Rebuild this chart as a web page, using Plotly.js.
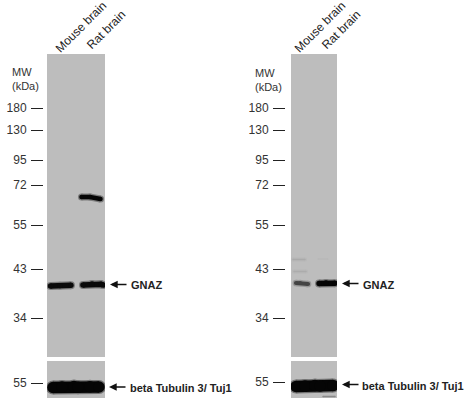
<!DOCTYPE html>
<html><head><meta charset="utf-8">
<script src="https://cdn.plot.ly/plotly-3.0.1.min.js"></script>
<style>html,body{margin:0;padding:0;background:#fff}</style></head>
<body><div id="chart" style="width:475px;height:406px"></div>
<script>
const W = 475, H = 406;
const laneLabels = ["Mouse brain", "Rat brain"];
const mwLabels = ["180", "130", "95", "72", "55", "43", "34"];
const mwMigration = [108, 130, 160, 185, 225, 269, 318];
const loadingLabel = ["55"];
const targetName = "GNAZ";
const loadingName = "beta Tubulin 3/ Tuj1";

// Bands: lane position and migration distance, with intensity as grey level
const leftMouseGnazX = [50.5, 60, 71];
const leftMouseGnazY = [286, 285.6, 285.3];
const leftRatGnazX = [83, 92, 101, 103];
const leftRatGnazY = [285, 284, 284.2, 285];
const leftRat66X = [81.5, 90, 100.5];
const leftRat66Y = [197, 197, 199];
const leftLoadX = [53, 62, 74, 78, 90, 99];
const leftLoadY = [387.5, 387, 386.5, 387.2, 386.8, 387];
const rightMouseGnazX = [296, 300, 308];
const rightMouseGnazY = [283, 283, 284];
const rightRatGnazX = [319, 326, 335];
const rightRatGnazY = [283.5, 283, 283.2];
const rightFaint1X = [293, 305];
const rightFaint1Y = [259.5, 259.5];
const rightFaint2X = [294, 306];
const rightFaint2Y = [271.5, 271.5];
const rightFaint3X = [318, 328];
const rightFaint3Y = [259, 259];
const rightLoadX = [296, 305, 315, 320, 333];
const rightLoadY = [386.5, 386, 385.5, 386, 385.5];
const rightLoadFaintX = [323, 335];
const rightLoadFaintY = [396.5, 396.5];

function band(ax, ay, xs, ys, width, color, halo) {
  const out = [];
  if (halo) out.push({type: "scatter", mode: "lines+markers", x: xs, y: ys, xaxis: ax, yaxis: ay,
    line: {color: color, width: width + 2.5}, marker: {color: color, size: width + 2.5, line: {width: 0}},
    opacity: halo, hoverinfo: "skip", showlegend: false, cliponaxis: true});
  out.push({type: "scatter", mode: "lines+markers", x: xs, y: ys, xaxis: ax, yaxis: ay,
    line: {color: color, width: width}, marker: {color: color, size: width, line: {width: 0}},
    hoverinfo: "skip", showlegend: false, cliponaxis: true});
  return out;
}
const data = [].concat(
  band("x", "y", leftRat66X, leftRat66Y, 4.6, "#050505", 0.35),
  band("x", "y", leftMouseGnazX, leftMouseGnazY, 5.4, "#0a0a0a", 0.35),
  band("x", "y", leftRatGnazX, leftRatGnazY, 5.6, "#0a0a0a", 0.35),
  band("x2", "y2", leftLoadX, leftLoadY, 11.5, "#050505", 0.4),
  band("x3", "y3", rightFaint1X, rightFaint1Y, 1.5, "#aaaaaa", 0.25),
  band("x3", "y3", rightFaint2X, rightFaint2Y, 1.5, "#acacac", 0.25),
  band("x3", "y3", rightFaint3X, rightFaint3Y, 1.2, "#b6b6b6", 0),
  band("x3", "y3", rightMouseGnazX, rightMouseGnazY, 4.2, "#444444", 0.3),
  band("x3", "y3", rightRatGnazX, rightRatGnazY, 5.4, "#050505", 0.35),
  band("x4", "y4", rightLoadX, rightLoadY, 11.5, "#050505", 0.4),
  band("x4", "y4", rightLoadFaintX, rightLoadFaintY, 1.5, "#8a8a8a", 0)
);

const textFont = {family: "Liberation Sans, Arial, sans-serif", size: 12, color: "#333"};
function xAxis(l, r) {
  return {domain: [l / W, r / W], range: [l, r], showgrid: false, zeroline: false, showticklabels: false, ticks: "", showline: false, fixedrange: true};
}
function yAxis(t, b, tv, tt, x) {
  return {domain: [1 - b / H, 1 - t / H], range: [b, t], anchor: "free", position: x / W,
    tickmode: "array", tickvals: tv, ticktext: tt, ticks: "outside", ticklen: 12, tickwidth: 1, tickcolor: "#222",
    tickfont: textFont, ticklabelstandoff: 2, showgrid: false, zeroline: false, showline: false, fixedrange: true};
}
const annText = (x, y, text, extra) => Object.assign({xref: "paper", yref: "paper", x: x / W, y: 1 - y / H, text: text, showarrow: false, yanchor: "middle", font: textFont}, extra || {});
const rot = (x, y, text) => annText(x, y, text, {textangle: -45, xanchor: "center", font: Object.assign({}, textFont, {size: 12, color: "#222"})});
const arrow = (x1, x2, y) => ({xref: "paper", yref: "paper", axref: "paper", ayref: "paper", x: x1 / W, y: 1 - y / H, ax: x2 / W, ay: 1 - y / H, text: "", showarrow: true, arrowhead: 2, arrowsize: 1.1, arrowwidth: 1.4, arrowcolor: "#111"});
const bold = {family: "Liberation Sans, Arial, sans-serif", size: 11, color: "#222"};

const layout = {
  width: W, height: H, margin: {l: 0, r: 0, t: 0, b: 0, pad: 0},
  paper_bgcolor: "#ffffff", plot_bgcolor: "#bdbdbd", showlegend: false,
  xaxis: xAxis(47, 105),
  yaxis: yAxis(54, 357, mwMigration, mwLabels, 43),
  xaxis2: xAxis(47, 105),
  yaxis2: yAxis(361, 398, [383], loadingLabel, 43),
  xaxis3: xAxis(291, 337),
  yaxis3: yAxis(54, 357, mwMigration, mwLabels, 285),
  xaxis4: xAxis(291, 337),
  yaxis4: yAxis(361, 398, [382], loadingLabel, 285),
  annotations: [
    rot(81, 27, laneLabels[0]), rot(106, 30, laneLabels[1]),
    rot(320, 27, laneLabels[0]), rot(341, 30, laneLabels[1]),
    annText(10, 72, "MW", {xanchor: "left", font: Object.assign({}, textFont, {size: 11})}),
    annText(10, 85.5, "(kDa)", {xanchor: "left", font: Object.assign({}, textFont, {size: 11})}),
    annText(253, 73, "MW", {xanchor: "left", font: Object.assign({}, textFont, {size: 11})}),
    annText(253, 86.5, "(kDa)", {xanchor: "left", font: Object.assign({}, textFont, {size: 11})}),
    arrow(110, 128, 284.5), arrow(109, 127, 387), arrow(342, 360, 283.5), arrow(342, 360, 384.5),
    annText(129, 285, "<b>" + targetName + "</b>", {xanchor: "left", font: bold}),
    annText(127.5, 387.5, "<b>" + loadingName + "</b>", {xanchor: "left", font: bold}),
    annText(361, 285, "<b>" + targetName + "</b>", {xanchor: "left", font: bold}),
    annText(360, 385.5, "<b>" + loadingName + "</b>", {xanchor: "left", font: bold})
  ]
};
Plotly.newPlot("chart", data, layout, {displayModeBar: false, staticPlot: true});
</script></body></html>
